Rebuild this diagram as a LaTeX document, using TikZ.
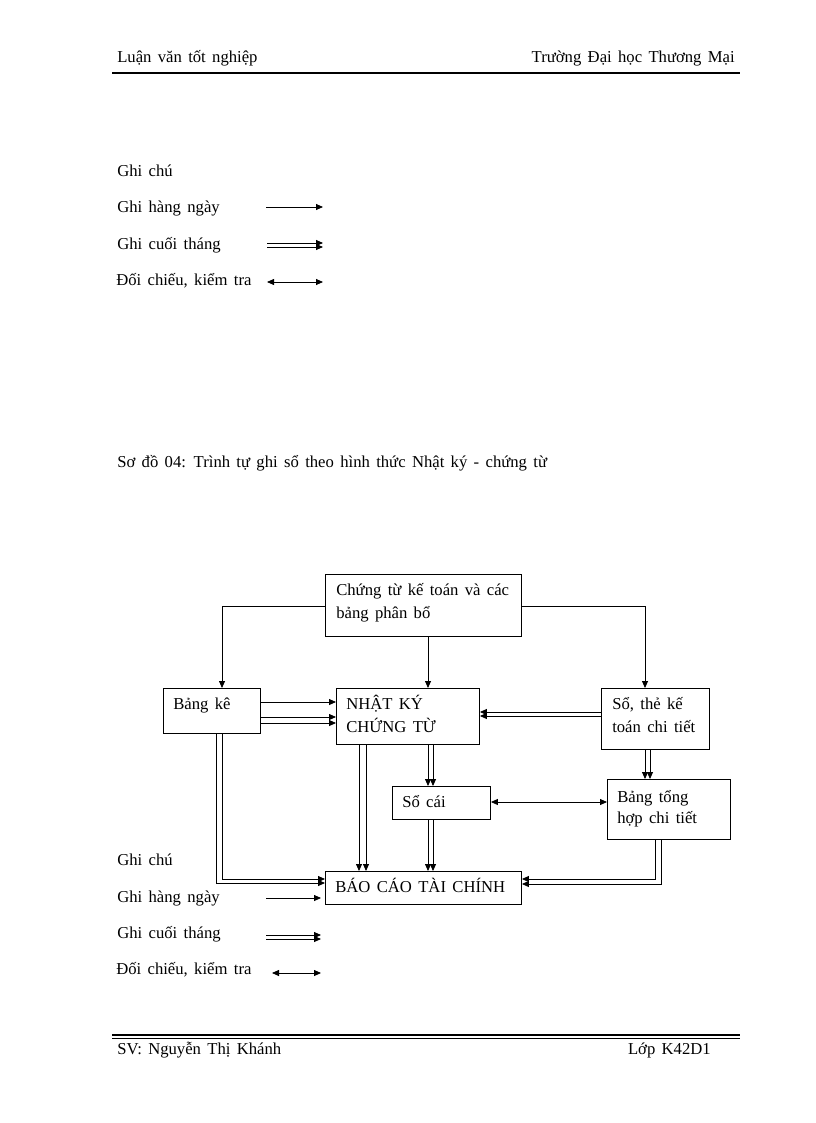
\documentclass[tikz,border=0pt]{standalone}
\usepackage{fontspec}
\setmainfont{Liberation Serif}
\usetikzlibrary{arrows.meta}
\newcommand\mytxtfont{\fontsize{12.5}{15}\selectfont\spaceskip 0.38em plus 0.1em\relax}
\begin{document}
\begin{tikzpicture}[x=0.75pt,y=-0.75pt,
  box/.style={draw, line width=0.7pt, anchor=north west, inner sep=0pt},
  txt/.style={inner sep=0pt, anchor=base west, font=\mytxtfont},
  ln/.style={line width=0.6pt},
  arr/.style={ln, -{Triangle[length=5.25pt,width=4.5pt]}},
  darr/.style={ln, {Triangle[length=5.25pt,width=4.5pt]}-{Triangle[length=5.25pt,width=4.5pt]}}]
\useasboundingbox (0,0) rectangle (816,1123);
\fill[white] (0,0) rectangle (816,1123);

% header and footer
\node[txt] (h1) at (117,63) {Luận văn tốt nghiệp};
\node[txt, anchor=base east] (h2) at (735,63) {Trường Đại học Thương Mại};
\draw[line width=1.5pt] (112,73.5) -- (740,73.5);
\draw[line width=1.2pt] (112,1035) -- (740,1035);
\draw[line width=0.6pt] (112,1038.5) -- (740,1038.5);
\node[txt] (f1) at (117,1054) {SV: Nguyễn Thị Khánh};
\node[txt, anchor=base east] (f2) at (711,1054) {Lớp K42D1};

% top legend
\node[txt] (g1) at (117,177) {Ghi chú};
\node[txt] (g2) at (117,213) {Ghi hàng ngày};
\node[txt] (g3) at (117,249) {Ghi cuối tháng};
\node[txt] (g4) at (116,285) {Đối chiếu, kiểm tra};
\coordinate (a1s) at (266,207); \coordinate (a1e) at (323,207);
\coordinate (a2s) at (267,243); \coordinate (a2e) at (323,243);
\coordinate (a3s) at (267,247); \coordinate (a3e) at (323,247);
\coordinate (a4s) at (267,282); \coordinate (a4e) at (323,282);
\draw[arr] (a1s) -- (a1e);
\draw[arr] (a2s) -- (a2e);
\draw[arr] (a3s) -- (a3e);
\draw[darr] (a4s) -- (a4e);

% title
\node[txt] (ti) at (117,467) {Sơ đồ 04: Trình tự ghi sổ theo hình thức Nhật ký - chứng từ};

% boxes
\node[box, minimum width=147pt, minimum height=46.5pt] (ct) at (325,574) {};
\node[box, minimum width=72.75pt, minimum height=33.75pt] (bk) at (163,688) {};
\node[box, minimum width=107.25pt, minimum height=42pt] (nk) at (336,688) {};
\node[box, minimum width=81pt, minimum height=45.75pt] (st) at (601,688) {};
\node[box, minimum width=73.5pt, minimum height=24.75pt] (sc) at (392,786) {};
\node[box, minimum width=92.25pt, minimum height=45pt] (th) at (607,779) {};
\node[box, minimum width=147pt, minimum height=24.75pt] (bc) at (325,871) {};

% box texts
\node[txt] (ct1) at (336,595) {Chứng từ kế toán và các};
\node[txt] (ct2) at (336,618) {bảng phân bổ};
\node[txt] (bk1) at (173,709) {Bảng kê};
\node[txt] (nk1) at (346,709) {NHẬT KÝ};
\node[txt] (nk2) at (346,732) {CHỨNG TỪ};
\node[txt] (st1) at (612,709) {Sổ, thẻ kế};
\node[txt] (st2) at (612,732) {toán chi tiết};
\node[txt] (sc1) at (402,807) {Sổ cái};
\node[txt] (th1) at (617,802) {Bảng tổng};
\node[txt] (th2) at (617,823) {hợp chi tiết};
\node[txt] (bc1) at (335,892) {BÁO CÁO TÀI CHÍNH};

% guide coordinates
\coordinate (xa) at (428,0);
\coordinate (xb) at (433,0);
\coordinate (xc) at (359,0);
\coordinate (xd) at (366,0);
\coordinate (xe) at (645,0);
\coordinate (xf) at (650,0);
\coordinate (xg) at (216,0);
\coordinate (xh) at (222,0);
\coordinate (xi) at (655,0);
\coordinate (xj) at (661,0);
\coordinate (ya) at (0,606);
\coordinate (yb) at (0,702);
\coordinate (yc) at (0,717);
\coordinate (yd) at (0,723);
\coordinate (ye) at (0,712);
\coordinate (yf) at (0,716);
\coordinate (yg) at (0,802);
\coordinate (yh) at (0,879);
\coordinate (yi) at (0,883);
\coordinate (yj) at (0,884);

% connectors
\draw[arr] (ct.west |- ya) -| (bk.north -| xh);
\draw[arr] (ct.east |- ya) -| (st.north -| xe);
\draw[arr] (ct.south -| xa) -- (nk.north -| xa);
\draw[arr] (bk.east |- yb) -- (nk.west |- yb);
\draw[arr] (bk.east |- yc) -- (nk.west |- yc);
\draw[arr] (bk.east |- yd) -- (nk.west |- yd);
\draw[arr] (st.west |- ye) -- (nk.east |- ye);
\draw[arr] (st.west |- yf) -- (nk.east |- yf);
\draw[arr] (nk.south -| xa) -- (sc.north -| xa);
\draw[arr] (nk.south -| xb) -- (sc.north -| xb);
\draw[arr] (nk.south -| xc) -- (bc.north -| xc);
\draw[arr] (nk.south -| xd) -- (bc.north -| xd);
\draw[arr] (sc.south -| xa) -- (bc.north -| xa);
\draw[arr] (sc.south -| xb) -- (bc.north -| xb);
\draw[darr] (sc.east |- yg) -- (th.west |- yg);
\draw[arr] (st.south -| xe) -- (th.north -| xe);
\draw[arr] (st.south -| xf) -- (th.north -| xf);
\draw[arr] (th.south -| xi) |- (bc.east |- yh);
\draw[arr] (th.south -| xj) |- (bc.east |- yj);
\draw[arr] (bk.south -| xh) |- (bc.west |- yh);
\draw[arr] (bk.south -| xg) |- (bc.west |- yi);

% bottom legend
\node[txt] (b1) at (117,865) {Ghi chú};
\node[txt] (b2) at (117,902) {Ghi hàng ngày};
\node[txt] (b3) at (117,938) {Ghi cuối tháng};
\node[txt] (b4) at (116,974) {Đối chiếu, kiểm tra};
\coordinate (b1s) at (266,898); \coordinate (b1e) at (321,898);
\coordinate (b2s) at (266,935); \coordinate (b2e) at (321,935);
\coordinate (b3s) at (266,939); \coordinate (b3e) at (321,939);
\coordinate (b4s) at (272,973); \coordinate (b4e) at (321,973);
\draw[arr] (b1s) -- (b1e);
\draw[arr] (b2s) -- (b2e);
\draw[arr] (b3s) -- (b3e);
\draw[darr] (b4s) -- (b4e);
\end{tikzpicture}
\end{document}
